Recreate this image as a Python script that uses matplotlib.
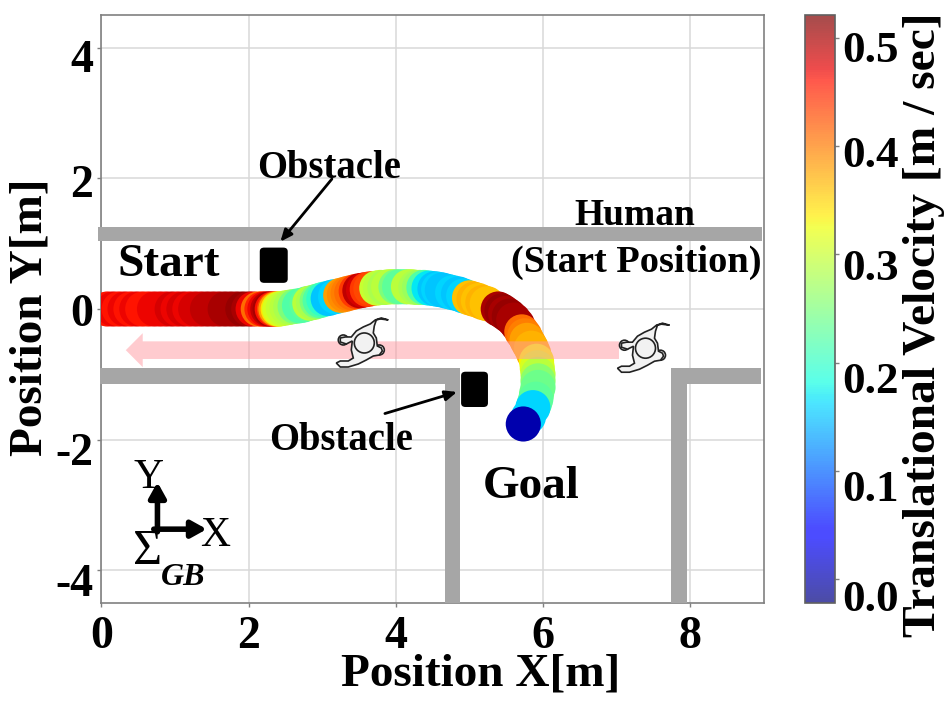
import numpy as np
import matplotlib
matplotlib.use('Agg')
import matplotlib.pyplot as plt
from matplotlib.cm import ScalarMappable
from matplotlib.colors import Normalize
from matplotlib.patches import Rectangle, FancyBboxPatch, Polygon, Ellipse, FancyArrow
from matplotlib.transforms import ScaledTranslation

plt.rcParams['font.family'] = ['Liberation Serif', 'DejaVu Serif']
plt.rcParams['axes.unicode_minus'] = False

# robot trajectory, speed is in m/sec
path_x = [0.08, 0.16, 0.24, 0.32, 0.40, 0.48, 0.56, 0.64, 0.72, 0.80, 0.88, 0.96, 1.04, 1.12, 1.20,
          1.28, 1.36, 1.44, 1.52, 1.60, 1.68, 1.76, 1.84, 1.92, 2.00, 2.06, 2.13, 2.18, 2.22, 2.26,
          2.29, 2.32, 2.35, 2.37, 2.40, 2.42, 2.47, 2.52, 2.57, 2.63, 2.69, 2.74, 2.79, 2.83, 2.88,
          2.93, 2.97, 3.02, 3.08, 3.13, 3.18, 3.25, 3.30, 3.35, 3.40, 3.46, 3.51, 3.56, 3.61, 3.66,
          3.74, 3.79, 3.85, 3.90, 3.95, 4.00, 4.05, 4.12, 4.17, 4.22, 4.27, 4.32, 4.38, 4.45, 4.53,
          4.58, 4.63, 4.70, 4.77, 4.85, 4.92, 5.00, 5.06, 5.12, 5.18, 5.24, 5.39, 5.44, 5.49, 5.54,
          5.60, 5.65, 5.71, 5.75, 5.78, 5.81, 5.84, 5.87, 5.91, 5.92, 5.93, 5.93, 5.93, 5.91, 5.90,
          5.88, 5.86, 5.80, 5.73]
path_y = [0.00, 0.00, 0.00, 0.00, 0.00, 0.00, 0.00, 0.00, 0.00, 0.00, 0.00, 0.00, 0.00, 0.00, 0.00,
          0.00, 0.00, 0.00, 0.00, 0.00, 0.00, 0.00, 0.00, 0.00, 0.00, 0.00, 0.00, 0.00, 0.00, 0.00,
          0.00, 0.00, 0.00, 0.00, 0.00, 0.00, 0.01, 0.02, 0.03, 0.04, 0.05, 0.06, 0.08, 0.09, 0.10,
          0.12, 0.13, 0.15, 0.16, 0.18, 0.19, 0.21, 0.22, 0.24, 0.25, 0.27, 0.28, 0.29, 0.30, 0.31,
          0.32, 0.33, 0.33, 0.34, 0.34, 0.34, 0.34, 0.34, 0.34, 0.34, 0.33, 0.33, 0.33, 0.32, 0.31,
          0.30, 0.29, 0.27, 0.25, 0.23, 0.20, 0.17, 0.15, 0.13, 0.10, 0.08, 0.00, -0.03, -0.07, -0.11,
          -0.17, -0.24, -0.35, -0.41, -0.48, -0.54, -0.60, -0.68, -0.80, -0.90, -1.00, -1.10, -1.20, -1.30, -1.38,
          -1.45, -1.51, -1.65, -1.76]
path_v = [0.46, 0.47, 0.46, 0.47, 0.46, 0.47, 0.46, 0.46, 0.47, 0.47, 0.47, 0.48, 0.47, 0.48, 0.47,
          0.48, 0.48, 0.49, 0.49, 0.49, 0.50, 0.50, 0.50, 0.51, 0.50, 0.47, 0.41, 0.45, 0.47, 0.49,
          0.50, 0.46, 0.43, 0.38, 0.34, 0.31, 0.30, 0.29, 0.28, 0.25, 0.22, 0.22, 0.23, 0.29, 0.28,
          0.25, 0.22, 0.20, 0.15, 0.15, 0.16, 0.38, 0.39, 0.40, 0.41, 0.44, 0.49, 0.48, 0.44, 0.43,
          0.30, 0.29, 0.28, 0.29, 0.29, 0.25, 0.23, 0.23, 0.29, 0.29, 0.28, 0.27, 0.22, 0.17, 0.15,
          0.16, 0.15, 0.15, 0.16, 0.15, 0.16, 0.36, 0.37, 0.36, 0.37, 0.36, 0.50, 0.51, 0.50, 0.51,
          0.50, 0.50, 0.41, 0.40, 0.38, 0.38, 0.37, 0.37, 0.33, 0.31, 0.29, 0.26, 0.24, 0.24, 0.23,
          0.23, 0.16, 0.16, 0.00]

x_ticks = [0, 2, 4, 6, 8]
y_ticks = [-4, -2, 0, 2, 4]
cbar_ticks = [0.0, 0.1, 0.2, 0.3, 0.4, 0.5]
# the printed labels sit a little below their ticks, pixels
y_label_shift = [10, 9, 1, 3, 8]
cbar_label_shift = [16, 15, 15, 10, 5, 9]

# walls as x0, x1, y0, y1
walls = [(-0.05, 8.97, 1.036, 1.26),
         (-0.02, 4.87, -1.15, -0.90),
         (4.667, 4.87, -4.5, -0.90),
         (7.74, 7.96, -4.5, -0.90),
         (7.74, 8.96, -1.15, -0.90)]
obstacles = [(2.15, 2.53, 0.40, 0.94), (4.885, 5.25, -1.50, -0.96)]
humans = [(3.57, -0.52), (7.39, -0.60)]

# outline of the human, pixels from the head centre
human_dx = [24, 16, 12, 10, 9, 12, 13, 17, 18, 15, 9, 2, -6, -16, -24, -28, -24, -16, -11, -13, -12, -18, -24, -24, -19,
            -13, -8, -1, 6, 11, 17]
human_dy = [-23, -24, -23, -17, -10, -5, 3, 5, 8, 12, 13, 17, 21, 24, 24, 20, 18, 18, 15, 7, -2, 1, -1, -5, -6,
            -6, -12, -16, -19, -23, -25]
# shoulder bumps, pixels from the head centre
bump_dx = [-21, 15]
bump_dy = [-3, 7]

fig = plt.figure(figsize=(9.45, 7.08), dpi=100)
ax = fig.add_axes([101.5 / 945, 105 / 708, 662.5 / 945, 588 / 708])
cax = fig.add_axes([805 / 945, 105 / 708, 30 / 945, 588 / 708])

norm = Normalize(vmin=-0.022, vmax=0.521)
ax.scatter(path_x, path_y, c=path_v, cmap='jet', norm=norm, s=640, linewidths=0, zorder=3)

ax.set_xlim(0, 9)
ax.set_ylim(-4.5, 4.5)
ax.set_xticks(x_ticks)
ax.set_yticks(y_ticks)
ax.grid(True, color='#d9d9d9', linewidth=1.1)
ax.set_axisbelow(True)
ax.tick_params(colors='#808080', length=3, width=1, labelsize=33, labelcolor='black', pad=3)
ax.tick_params(axis='x', pad=6)
for lab in ax.get_xticklabels() + ax.get_yticklabels():
    lab.set_fontweight('bold')
for lab, shift in zip(ax.get_yticklabels(), y_label_shift):
    lab.set_transform(lab.get_transform() + ScaledTranslation(0, -shift / 100, fig.dpi_scale_trans))
for sp in ax.spines.values():
    sp.set_color('#808080')
    sp.set_linewidth(1.2)

# walls and obstacles
for x0, x1, y0, y1 in walls:
    ax.add_patch(Rectangle((x0, y0), x1 - x0, y1 - y0, color='#a6a6a6', lw=0, clip_on=False, zorder=4))
for x0, x1, y0, y1 in obstacles:
    ax.add_patch(FancyBboxPatch((x0 + 0.04, y0 + 0.04), x1 - x0 - 0.08, y1 - y0 - 0.08,
                                boxstyle='round,pad=0.04,rounding_size=0.06', color='black', lw=0, zorder=5))

# human walking direction
ax.add_patch(FancyArrow(7.03, -0.63, -6.70, 0, width=0.27, head_width=0.52, head_length=0.23,
                        length_includes_head=True, color=(1, 0.6, 0.63), alpha=0.5, lw=0, zorder=4))

for hx, hy in humans:
    for bx, by in zip(bump_dx, bump_dy):
        ax.add_patch(Ellipse((hx + bx / 73.6, hy - by / 65.25), 10 / 73.6, 10 / 65.25, facecolor='#f2f2f2',
                             edgecolor='#222222', lw=1.2, zorder=6))
    pts = np.column_stack([hx + np.array(human_dx) / 73.6, hy - np.array(human_dy) / 65.25])
    ax.add_patch(Polygon(pts, closed=True, facecolor='#f2f2f2', edgecolor='#222222', lw=1.2, zorder=6))
    ax.add_patch(Ellipse((hx, hy), 20 / 73.6, 20 / 65.25, facecolor='#f2f2f2', edgecolor='#222222', lw=1.2, zorder=7))

fig.text(481 / 945, 1 - 675 / 708, 'Position X[m]', fontsize=34, fontweight='bold', ha='center', va='center')
fig.text(31 / 945, 1 - 317 / 708, 'Position Y[m]', rotation=90, fontsize=34, fontweight='bold', ha='center', va='center')

# text on the plot
ax.text(0.91, 0.68, 'Start', fontsize=34, fontweight='bold', ha='center', va='center', zorder=8)
ax.text(5.83, -2.72, 'Goal', fontsize=34, fontweight='bold', ha='center', va='center', zorder=8)
ax.text(7.25, 1.43, 'Human', fontsize=27, fontweight='bold', ha='center', va='center', zorder=8)
ax.text(7.26, 0.72, '(Start Position)', fontsize=27.6, fontweight='bold', ha='center', va='center', zorder=8)
ax.text(3.09, 2.15, 'Obstacle', fontsize=27.8, fontweight='bold', ha='center', va='center', zorder=8)
ax.text(3.25, -2.01, 'Obstacle', fontsize=27.8, fontweight='bold', ha='center', va='center', zorder=8)

arrow_style = dict(arrowstyle='-|>,head_width=0.3,head_length=0.7', color='black', lw=2.0, shrinkA=0, shrinkB=0)
ax.annotate('', xy=(2.43, 1.03), xytext=(3.13, 1.99), arrowprops=arrow_style, zorder=8)
ax.annotate('', xy=(4.83, -1.27), xytext=(3.85, -1.60), arrowprops=arrow_style, zorder=8)

# frame symbol
frame_style = dict(arrowstyle='-|>,head_width=0.5,head_length=0.9', color='black', lw=4.0, shrinkA=0, shrinkB=0)
ax.annotate('', xy=(0.76, -2.65), xytext=(0.76, -3.41), arrowprops=frame_style, zorder=8)
ax.annotate('', xy=(1.43, -3.37), xytext=(0.71, -3.37), arrowprops=frame_style, zorder=8)
ax.text(0.64, -2.58, 'Y', fontsize=30, ha='center', va='center', zorder=8)
ax.text(1.55, -3.47, 'X', fontsize=30, ha='center', va='center', zorder=8)
ax.text(0.62, -3.72, '\u03a3', fontsize=36, ha='center', va='center', zorder=8)
ax.text(1.11, -4.11, 'GB', fontsize=23, fontweight='bold', fontstyle='italic', ha='center', va='center', zorder=8)

# colorbar
sm = ScalarMappable(norm=norm, cmap='jet')
cb = fig.colorbar(sm, cax=cax, alpha=0.7)
cb.set_ticks(cbar_ticks)
cb.set_ticklabels(['%.1f' % t for t in cbar_ticks])
cax.tick_params(colors='#808080', length=3, width=1, labelsize=32.5, labelcolor='black', pad=2)
for lab, shift in zip(cax.get_yticklabels(), cbar_label_shift):
    lab.set_fontweight('bold')
    lab.set_transform(lab.get_transform() + ScaledTranslation(0, -shift / 100, fig.dpi_scale_trans))
cb.outline.set_edgecolor('#606060')
cb.outline.set_linewidth(1.2)
fig.text(924 / 945, 1 - 325 / 708, 'Translational Velocity [m / sec]', rotation=90, fontsize=34.2,
         fontweight='bold', ha='center', va='center')

plt.savefig('out.png', dpi=100)
